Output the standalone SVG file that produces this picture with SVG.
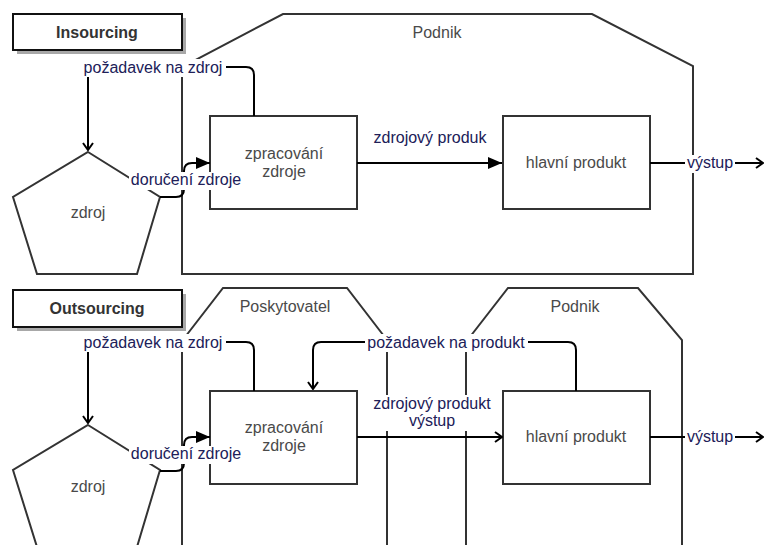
<svg xmlns="http://www.w3.org/2000/svg" width="764" height="545" viewBox="0 0 764 545">
<style>
  text { font-family: "Liberation Sans", Arial, sans-serif; font-size: 16px; text-anchor: middle; }
  .cont { fill: none; stroke: #333; stroke-width: 2; }
  .box { fill: #fff; stroke: #333; stroke-width: 2; }
  .title { fill: #fff; stroke: #111; stroke-width: 2; }
  .shadow { fill: #a8a8a8; }
  .ntext { fill: #4a4a4a; }
  .ttext { fill: #333; font-weight: bold; }
  .edge { fill: none; stroke: #000; stroke-width: 2; }
  .lbg { fill: #fff; }
  .ltext { fill: #202058; }
</style>
<defs>
  <marker id="af" viewBox="0 0 14 12" refX="14" refY="6" markerWidth="14" markerHeight="12" orient="auto" markerUnits="userSpaceOnUse">
    <path d="M0,0 L14,6 L0,12 Z" fill="#000"/>
  </marker>
  <marker id="ao" viewBox="0 0 10 12" refX="9" refY="6" markerWidth="10" markerHeight="12" orient="auto" markerUnits="userSpaceOnUse">
    <path d="M2,1 L9,6 L2,11" fill="none" stroke="#000" stroke-width="2"/>
  </marker>
</defs>
<rect width="764" height="545" fill="#fff"/>

<!-- Top section -->
<g id="podnik-top">
  <path class="cont" d="M182,274 V67 L283,14 H592 L693,66 V274 Z"/>
  <text class="ntext" x="437" y="38">Podnik</text>
</g>
<g id="insourcing">
  <rect class="shadow" x="17" y="18" width="169" height="36"/>
  <rect class="title" x="13" y="14" width="169" height="36"/>
  <text class="ttext" x="97" y="38">Insourcing</text>
</g>
<g id="zdroj-top">
  <path class="box" d="M88,152 L160,197 L137,274 L37,274 L13,197 Z"/>
  <text class="ntext" x="88" y="218">zdroj</text>
</g>
<g id="zpracovani-top">
  <rect class="box" x="210" y="116" width="147" height="93"/>
  <text class="ntext" x="284" y="159">zpracování</text>
  <text class="ntext" x="284" y="177">zdroje</text>
</g>
<g id="hlavni-top">
  <rect class="box" x="503" y="116" width="147" height="93"/>
  <text class="ntext" x="576" y="168">hlavní produkt</text>
</g>

<!-- Bottom section -->
<g id="poskytovatel">
  <path class="cont" d="M182,560 V341 L223,288 H347 L387,340 V560"/>
  <text class="ntext" x="285" y="312">Poskytovatel</text>
</g>
<g id="podnik-bottom">
  <path class="cont" d="M466,560 V342 L508,288 H638 L682,340 V560"/>
  <text class="ntext" x="575" y="312">Podnik</text>
</g>
<g id="outsourcing">
  <rect class="shadow" x="17" y="294" width="169" height="37"/>
  <rect class="title" x="13" y="290" width="169" height="37"/>
  <text class="ttext" x="97" y="314">Outsourcing</text>
</g>
<g id="zdroj-bottom">
  <path class="box" d="M88,425 L160,470 L137,547 L37,547 L13,470 Z"/>
  <text class="ntext" x="88" y="492">zdroj</text>
</g>
<g id="zpracovani-bottom">
  <rect class="box" x="210" y="391" width="147" height="93"/>
  <text class="ntext" x="284" y="433">zpracování</text>
  <text class="ntext" x="284" y="451">zdroje</text>
</g>
<g id="hlavni-bottom">
  <rect class="box" x="503" y="391" width="147" height="93"/>
  <text class="ntext" x="576" y="442">hlavní produkt</text>
</g>

<g id="connectors">
  <!-- top -->
  <path class="edge" d="M254,116 V75 Q254,67 246,67 H96 Q88,67 88,75 V150" marker-end="url(#ao)"/>
  <path class="edge" d="M160,197 H176 Q184,197 184,189 V171 Q184,163 192,163 H210" marker-end="url(#af)"/>
  <path class="edge" d="M357,163 H502" marker-end="url(#af)"/>
  <path class="edge" d="M650,163 H763" marker-end="url(#ao)"/>
  <!-- bottom -->
  <path class="edge" d="M254,391 V350 Q254,342 246,342 H96 Q88,342 88,350 V423" marker-end="url(#ao)"/>
  <path class="edge" d="M576,391 V350 Q576,342 568,342 H321 Q313,342 313,350 V389" marker-end="url(#ao)"/>
  <path class="edge" d="M160,471 H176 Q184,471 184,463 V445 Q184,437 192,437 H210" marker-end="url(#af)"/>
  <path class="edge" d="M357,437 H502" marker-end="url(#ao)"/>
  <path class="edge" d="M650,437 H763" marker-end="url(#ao)"/>

  <!-- labels -->
  <rect class="lbg" x="81" y="59" width="145" height="18"/>
  <text class="ltext" x="153" y="73">požadavek na zdroj</text>
  <rect class="lbg" x="129" y="172" width="114" height="18"/>
  <text class="ltext" x="186" y="185">doručení zdroje</text>
  <rect class="lbg" x="371" y="129" width="118" height="18"/>
  <text class="ltext" x="430" y="143">zdrojový produk</text>
  <rect class="lbg" x="685" y="155" width="50" height="18"/>
  <text class="ltext" x="710" y="168">výstup</text>

  <rect class="lbg" x="81" y="334" width="145" height="18"/>
  <text class="ltext" x="153" y="348">požadavek na zdroj</text>
  <rect class="lbg" x="365" y="334" width="163" height="18"/>
  <text class="ltext" x="446" y="348">požadavek na produkt</text>
  <rect class="lbg" x="129" y="446" width="114" height="18"/>
  <text class="ltext" x="186" y="459">doručení zdroje</text>
  <rect class="lbg" x="371" y="395" width="122" height="36"/>
  <text class="ltext" x="432" y="409">zdrojový produkt</text>
  <text class="ltext" x="432" y="426">výstup</text>
  <rect class="lbg" x="685" y="429" width="50" height="18"/>
  <text class="ltext" x="710" y="442">výstup</text>
</g>
</svg>
